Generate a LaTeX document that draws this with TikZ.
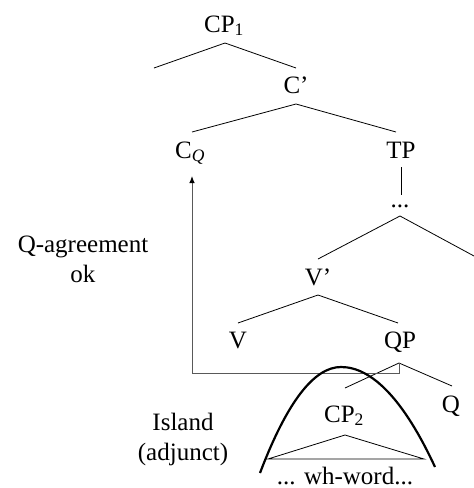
\documentclass[tikz,border=0pt]{standalone}
\usepackage{fontspec}
\setmainfont{Liberation Serif}
\usetikzlibrary{arrows.meta}
\begin{document}
\begin{tikzpicture}[x=1pt,y=-1pt,
  lbl/.style={inner sep=0pt,anchor=base,font=\fontsize{25}{29.5}\selectfont},
  br/.style={line width=0.8pt},
  agr/.style={line width=1pt,draw=black!65,-{Latex[length=7pt,width=5.5pt,fill=black,color=black]}},
  isl/.style={line width=2.2pt}]
\useasboundingbox (0,0) rectangle (474,488);
% labels (positioned at their baselines; two-line labels at the last line's baseline)
\node[lbl] (cp1) at (224,32) {CP\textsubscript{1}};
\node[lbl] (cbar) at (296,93) {C’};
\node[lbl] (cq) at (190,158) {C\textsubscript{\itshape Q}};
\node[lbl] (tp) at (401,158) {TP};
\node[lbl] (dots) at (400,207) {...};
\node[lbl] (vbar) at (318,285) {V’};
\node[lbl] (v) at (238,348) {V};
\node[lbl] (qp) at (400,348) {QP};
\node[lbl] (q) at (451,412) {Q};
\node[lbl] (cp2) at (344,422) {CP\textsubscript{2}};
\node[lbl] (wh) at (345,484) {... wh-word...};
\node[lbl,align=center] (qagr) at (83,282) {Q-agreement\\ok};
\node[lbl,align=center] (island) at (183,460) {Island\\(adjunct)};
% branch points
\coordinate (a1) at (225,43); \coordinate (l1) at (154,68); \coordinate (r1) at (296,68);
\coordinate (a2) at (296,104); \coordinate (l2) at (192,132); \coordinate (r2) at (396,132);
\coordinate (t1) at (401,167); \coordinate (t2) at (401,195);
\coordinate (a3) at (400,216); \coordinate (l3) at (318,259); \coordinate (r3) at (474,256);
\coordinate (a4) at (318,295); \coordinate (l4) at (238,323); \coordinate (r4) at (398,323);
\coordinate (a5) at (399,363); \coordinate (l5) at (345,388); \coordinate (r5) at (452,386);
\coordinate (a6) at (345,435); \coordinate (l6) at (268,459); \coordinate (r6) at (424,459);
\coordinate (bend) at (399,373);
\coordinate (tip) at (192,176);
\draw[br] (l1) -- (a1) -- (r1);
\draw[br] (l2) -- (a2) -- (r2);
\draw[br] (t1) -- (t2);
\draw[br] (l3) -- (a3) -- (r3);
\draw[br] (l4) -- (a4) -- (r4);
\draw[br] (l5) -- (a5) -- (r5);
\draw[br] (l6) -- (a6) -- (r6) -- cycle;
% agreement arrow
\draw[agr] (a5) -- (bend) -| (tip);
% island
\coordinate (i0) at (260,473); \coordinate (ip) at (341,367); \coordinate (i1) at (435,467);
\draw[isl] (i0) .. controls (287,402) and (314,367) .. (ip)
  .. controls (372,367) and (404,400) .. (i1);
\end{tikzpicture}
\end{document}
